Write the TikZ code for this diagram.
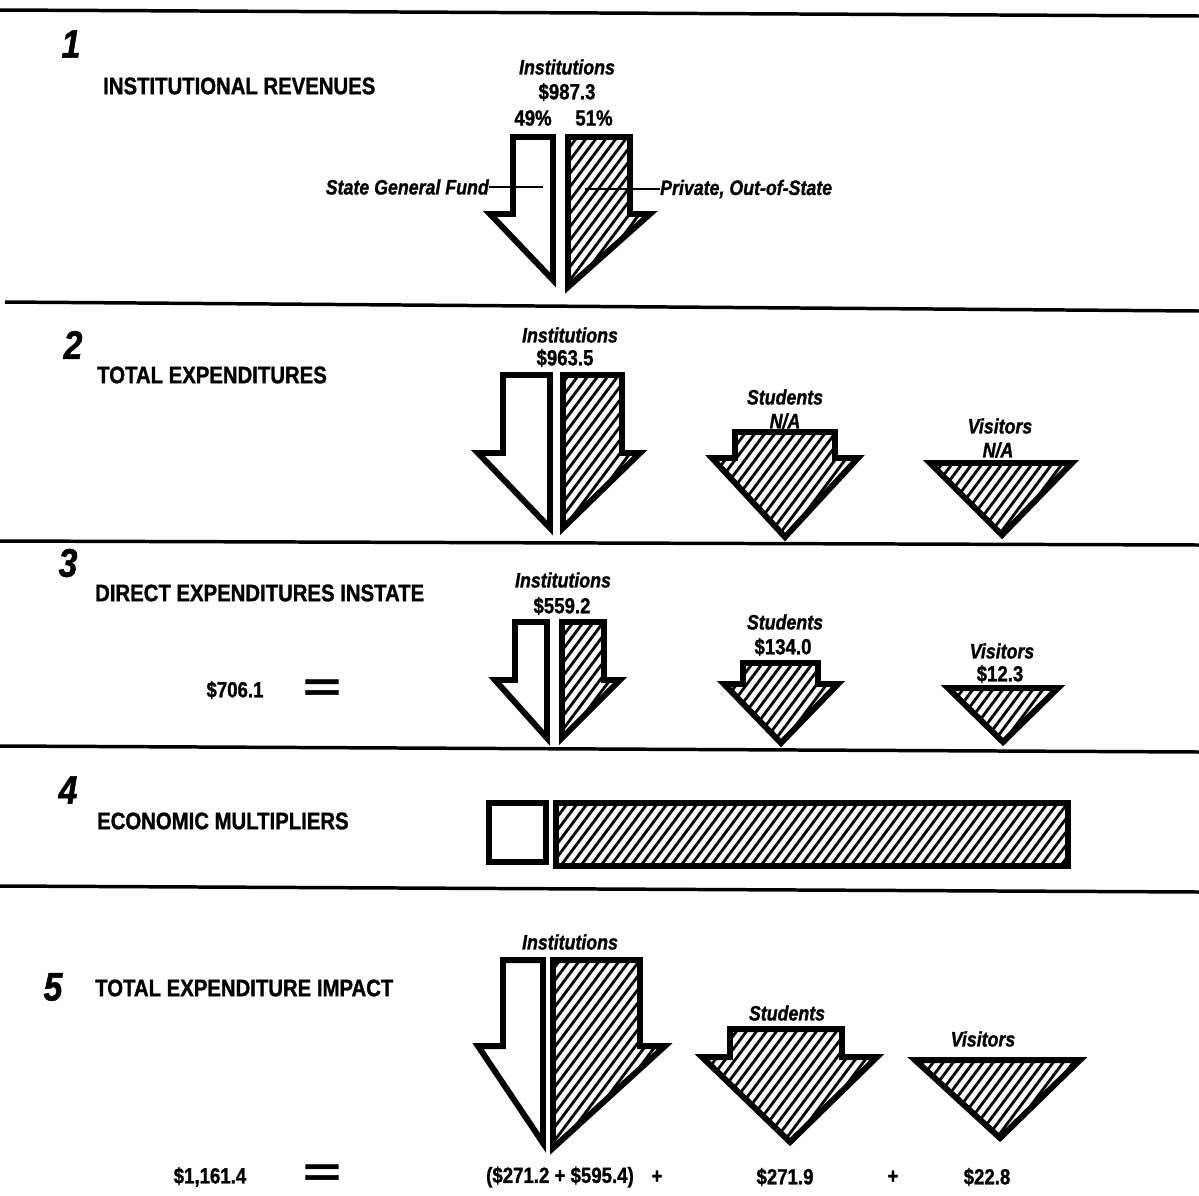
\documentclass[tikz,border=0pt]{standalone}
\usepackage{fontspec}
\setmainfont{Liberation Sans}[FakeStretch=0.85, BoldFeatures={FakeBold=1.2}, BoldItalicFeatures={FakeBold=1.2}]
\usepackage{graphicx}
\tikzset{
 sepline/.style={line width=3.5pt},
 outl/.style={line width=6pt, line join=miter},
 hatchl/.style={line width=2.8pt},
 leader/.style={line width=2pt},
 head/.style={font=\fontsize{24}{24}\selectfont\bfseries, anchor=west, inner sep=0},
 num/.style={font=\fontsize{40}{40}\selectfont\bfseries\itshape, inner sep=0},
 lab/.style={font=\fontsize{21}{21}\selectfont\bfseries\itshape, inner sep=0},
 val/.style={font=\fontsize{22}{22}\selectfont\bfseries, inner sep=0},
 eqs/.style={font=\fontsize{40}{40}\selectfont\bfseries, inner sep=0},
}
\begin{document}
\begin{tikzpicture}[x=1bp,y=-1bp]
\useasboundingbox (0,0) rectangle (1199,1196);
% separators
\draw[sepline] (0,10) -- (1199,16);
\draw[sepline] (5,302) -- (1199,311);
\draw[sepline] (0,541) -- (1199,545);
\draw[sepline] (0,746) -- (1199,752);
\draw[sepline] (0,886) -- (1199,892);
% shapes
\def\IaL{(513,137) -- (553,137) -- (553,280) -- (490,214) -- (513,214) -- cycle}
\def\IaR{(568,137) -- (630,137) -- (630,214) -- (650,214) -- (568,287) -- cycle}
\def\IbL{(503,375) -- (550,375) -- (550,528) -- (478,453) -- (503,453) -- cycle}
\def\IbR{(563,375) -- (622,375) -- (622,453) -- (640,453) -- (563,528) -- cycle}
\def\Sb{(735,432) -- (835,432) -- (835,458) -- (858,458) -- (785,537) -- (712,458) -- (735,458) -- cycle}
\def\Vb{(930,463) -- (1072,463) -- (1002,535) -- cycle}
\def\IcL{(515,622) -- (547,622) -- (547,738) -- (495,680) -- (515,680) -- cycle}
\def\IcR{(562,622) -- (604,622) -- (604,680) -- (620,680) -- (562,738) -- cycle}
\def\Sc{(743,663) -- (818,663) -- (818,684) -- (838,684) -- (781,743) -- (724,684) -- (743,684) -- cycle}
\def\Vc{(948,688) -- (1058,688) -- (1003,742) -- cycle}
\def\Wd{(489,803) rectangle (546,862)}
\def\Hd{(556,803) rectangle (1068,866)}
\def\IeL{(503,960) -- (543,960) -- (543,1143) -- (478,1046) -- (503,1046) -- cycle}
\def\IeR{(553,960) -- (640,960) -- (640,1046) -- (665,1046) -- (553,1148) -- cycle}
\def\Se{(730,1029) -- (842,1029) -- (842,1057) -- (877,1057) -- (790,1142) -- (702,1057) -- (730,1057) -- cycle}
\def\Ve{(915,1060) -- (1080,1060) -- (1000,1138) -- cycle}
\begin{scope}
 \clip \IaR \IbR \Sb \Vb \IcR \Sc \Vc \Hd \IeR \Se \Ve;
 \foreach \c in {400,410,...,2100} \draw[hatchl] (\c,0) -- ++(-897,1196);
\end{scope}
\foreach \p in {\IaL,\IaR,\IbL,\IbR,\Sb,\Vb,\IcL,\IcR,\Sc,\Vc,\Wd,\Hd,\IeL,\IeR,\Se,\Ve}
 \draw[outl] \p;
% section 1
\node[num] (n1) at (71,44) {1};
\node[head] (h1) at (103,86) {INSTITUTIONAL REVENUES};
\node[lab] (i1) at (567,67) {Institutions};
\node[val] (v1) at (567,92) {\$987.3};
\node[val] (p1a) at (533,118) {49\%};
\node[val] (p1b) at (594,118) {51\%};
\node[lab, anchor=east] (sgf) at (489,187) {State General Fund};
\node[lab, anchor=west] (pos) at (660,189) {Private, Out-of-State};
\coordinate (sgfEnd) at (543,187);
\coordinate (posEnd) at (585,189);
\draw[leader] (sgf.east) -- (sgfEnd);
\draw[leader] (posEnd) -- (pos.west);
% section 2
\node[num] (n2) at (73,345) {2};
\node[head] (h2) at (97,375) {TOTAL EXPENDITURES};
\node[lab] (i2) at (570,335) {Institutions};
\node[val] (v2) at (565,358) {\$963.5};
\node[lab] (s2) at (785,397) {Students};
\node[lab] (sv2) at (785,421) {N/A};
\node[lab] (vi2) at (1000,426) {Visitors};
\node[lab] (vv2) at (998,450) {N/A};
% section 3
\node[num] (n3) at (68,563) {3};
\node[head] (h3) at (95,593) {DIRECT EXPENDITURES INSTATE};
\node[val] (t3) at (235,690) {\$706.1};
\node[eqs] (e3) at (322,690) {\scalebox{1.9}[1]{=}};
\node[lab] (i3) at (563,580) {Institutions};
\node[val] (v3) at (562,606) {\$559.2};
\node[lab] (s3) at (785,622) {Students};
\node[val] (sv3) at (783,647) {\$134.0};
\node[lab] (vi3) at (1002,651) {Visitors};
\node[val] (vv3) at (1000,674) {\$12.3};
% section 4
\node[num] (n4) at (68,790) {4};
\node[head] (h4) at (97,821) {ECONOMIC MULTIPLIERS};
% section 5
\node[num] (n5) at (53,987) {5};
\node[head] (h5) at (95,988) {TOTAL EXPENDITURE IMPACT};
\node[lab] (i5) at (570,942) {Institutions};
\node[lab] (s5) at (787,1013) {Students};
\node[lab] (vi5) at (983,1039) {Visitors};
\node[val] (t5) at (210,1177) {\$1,161.4};
\node[eqs] (e5) at (322,1175) {\scalebox{1.9}[1]{=}};
\node[val] (b1) at (560,1177) {(\$271.2 + \$595.4)};
\node[val] (pl1) at (657,1177) {+};
\node[val] (b2) at (785,1177) {\$271.9};
\node[val] (pl2) at (893,1177) {+};
\node[val] (b3) at (987,1177) {\$22.8};
\end{tikzpicture}
\end{document}
